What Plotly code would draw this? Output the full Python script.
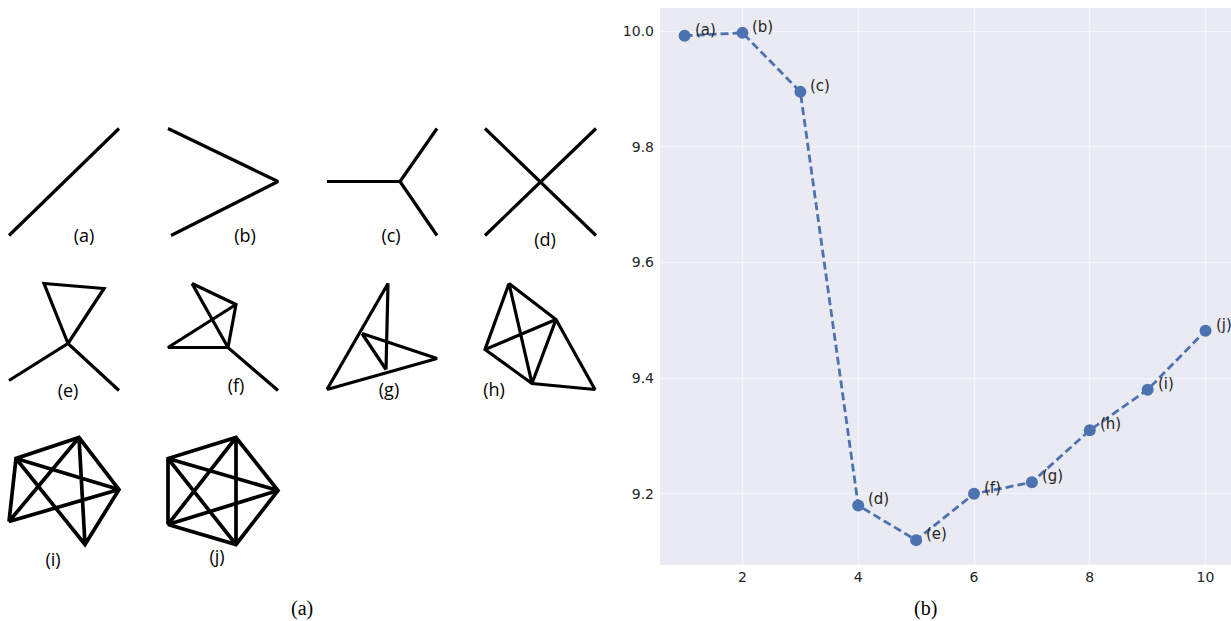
import plotly.graph_objects as go

### data ###

# right panel: values
sizes = [1, 2, 3, 4, 5, 6, 7, 8, 9, 10]
values = [9.992, 9.997, 9.895, 9.18, 9.12, 9.2, 9.22, 9.31, 9.38, 9.482]
point_labels = ["(a)", "(b)", "(c)", "(d)", "(e)", "(f)", "(g)", "(h)", "(i)", "(j)"]

# left panel: small graphs, strokes as lists of (x, y) in picture pixels
graph_a = [[(9, 235), (119, 128)]]
graph_b = [[(168, 128), (278, 181), (171, 235)]]
graph_c = [[(327, 181), (400, 181)], [(400, 181), (437, 128)], [(400, 181), (437, 235)]]
graph_d = [[(485, 128), (596, 235)], [(485, 235), (596, 128)]]
graph_e = [[(68, 343), (44, 283), (104, 288), (68, 343)], [(9, 380), (68, 343), (119, 390)]]
graph_f = [[(192, 283), (236, 304), (228, 347), (192, 283)],
           [(236, 304), (168, 347), (228, 347), (278, 390)]]
graph_g = [[(327, 389), (388, 283), (386, 369)],
           [(362, 333), (386, 369)],
           [(362, 333), (437, 358), (327, 389)]]
graph_h = [[(509, 283), (485, 349), (532, 383), (595, 389), (556, 319), (509, 283), (532, 383), (556, 319), (485, 349)]]
i_a, i_b, i_c, i_d, i_e = (16, 458), (79, 437), (119, 489), (85, 544), (9, 521)
graph_i = [[i_e, i_a, i_b, i_c, i_d, i_a, i_c, i_e, i_b, i_d]]
j_a, j_b, j_c, j_d, j_e = (168, 458), (236, 437), (278, 490), (236, 544), (168, 524)
graph_j = [[j_e, j_a, j_b, j_c, j_d, j_e, j_c, j_a, j_d, j_b, j_e]]
thin_graphs = [graph_a, graph_b, graph_c, graph_d, graph_e, graph_f, graph_g, graph_h]
thick_graphs = [graph_i, graph_j]

graph_labels = ["(a)", "(b)", "(c)", "(d)", "(e)", "(f)", "(g)", "(h)", "(i)", "(j)"]
graph_label_x = [84, 245, 391, 545, 68, 236, 389, 494, 53, 217]
graph_label_y = [237, 237, 237, 241, 392, 387, 391, 391, 561, 558]

### figure ###

WIDTH, HEIGHT = 1231, 621
BLUE = "#4c72b0"
INK = "#262626"

fig = go.Figure()

# the graphs are drawn on their own axes, laid out in pixels
for group, stroke_width in [(thin_graphs, 3.2), (thick_graphs, 3.7)]:
    xs, ys = [], []
    for graph in group:
        for stroke in graph:
            xs += [p[0] for p in stroke] + [None]
            ys += [p[1] for p in stroke] + [None]
    fig.add_trace(go.Scatter(x=xs, y=ys, xaxis="x2", yaxis="y2", mode="lines",
                             line=dict(color="black", width=stroke_width), hoverinfo="skip"))
fig.add_trace(go.Scatter(x=graph_label_x, y=graph_label_y, xaxis="x2", yaxis="y2",
                         mode="text", text=graph_labels,
                         textfont=dict(family="Open Sans", size=18, color="black"),
                         hoverinfo="skip"))

# the curve
fig.add_trace(go.Scatter(x=sizes, y=values, mode="lines+markers",
                         line=dict(color=BLUE, width=2.8, dash="8px,4px"),
                         marker=dict(color=BLUE, size=12)))

for x, y, label in zip(sizes, values, point_labels):
    fig.add_annotation(x=x, y=y, text=label, showarrow=False, xanchor="left",
                       xshift=8, yshift=6,
                       font=dict(family="DejaVu Sans", size=15, color=INK))

for cap_x, cap in [(302, "(a)"), (926, "(b)")]:
    fig.add_annotation(xref="paper", yref="paper", x=cap_x/WIDTH, y=1-608/HEIGHT, text=cap,
                       xanchor="center", yanchor="middle", showarrow=False,
                       font=dict(family="Liberation Serif", size=20, color="black"))

# only the right panel has the grey background
fig.add_shape(type="rect", xref="x domain", yref="y domain", x0=0, x1=1, y0=0, y1=1,
              layer="below", line=dict(width=0), fillcolor="#eaeaf2")

fig.update_layout(width=WIDTH, height=HEIGHT,
                  margin=dict(l=0, r=0, t=0, b=0),
                  showlegend=False,
                  paper_bgcolor="white",
                  plot_bgcolor="white",
                  # right panel, seaborn look
                  xaxis=dict(domain=[660/WIDTH, 1],
                             range=[0.575, 10.44],
                             tickvals=[2, 4, 6, 8, 10],
                             gridcolor="#f6f6fa", gridwidth=1, zeroline=False,
                             ticks="", ticklen=0, ticklabelstandoff=2,
                             tickfont=dict(family="DejaVu Sans", size=14, color=INK)),
                  yaxis=dict(domain=[1-565/HEIGHT, 1-8/HEIGHT],
                             range=[9.077, 10.04],
                             tickvals=[9.2, 9.4, 9.6, 9.8, 10.0],
                             tickformat=".1f",
                             gridcolor="#f6f6fa", gridwidth=1, zeroline=False,
                             ticks="", ticklen=0, ticklabelstandoff=5,
                             tickfont=dict(family="DejaVu Sans", size=14, color=INK)),
                  # left panel, pixel layout with no visible axes
                  xaxis2=dict(domain=[0, 650/WIDTH], range=[0, 650], visible=False,
                              anchor="y2"),
                  yaxis2=dict(domain=[0, 1], range=[HEIGHT - 0.5, -0.5], visible=False,
                              anchor="x2"))

fig.write_html("out.html", config=dict(displayModeBar=False),
               post_script="document.body.style.margin='0';")
